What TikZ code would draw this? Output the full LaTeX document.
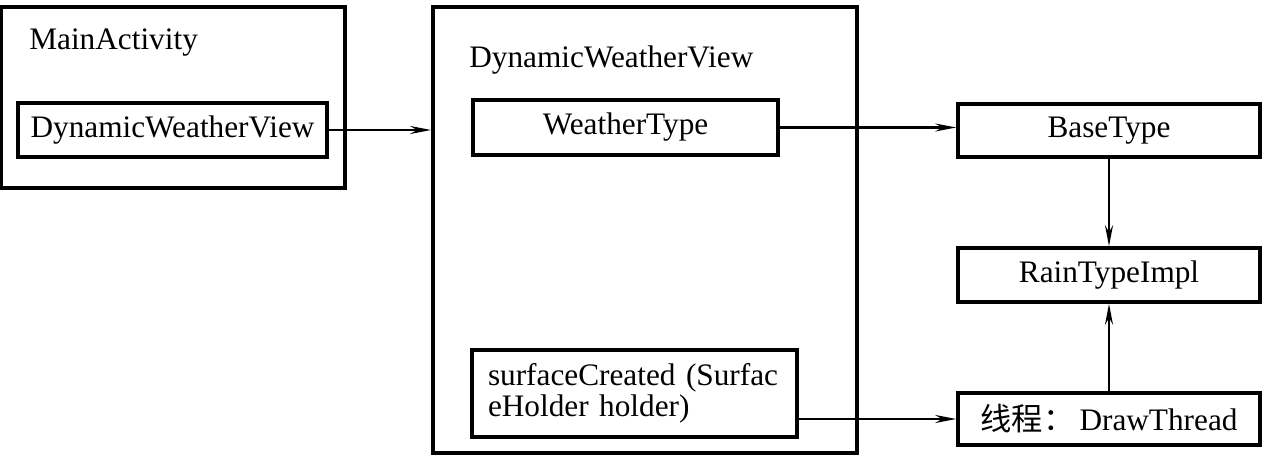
\documentclass[tikz,border=0pt]{standalone}
\usepackage{fontspec}
\setmainfont{Liberation Serif}
\newfontfamily\cjk{Noto Sans CJK SC}
\usepackage{tikz}
\usetikzlibrary{positioning,calc,arrows.meta}

\tikzset{
  box/.style={draw, line width=2.1pt, inner sep=0pt, minimum height=1.08cm},
  frame/.style={draw, line width=2.2pt, inner sep=0pt},
  title/.style={anchor=west, inner sep=0pt},
  link/.style={line width=1.2pt, -{Stealth[length=12pt, width=4.6pt, inset=4pt]}},
  vlink/.style={line width=0.8pt, -{Stealth[length=12pt, width=4.6pt, inset=4pt]}}
}

\begin{document}
\begin{tikzpicture}[font=\fontsize{17.8}{18}\selectfont]
  \useasboundingbox (0,0) rectangle (25.38,-9.1);

  % left part
  \node[frame, minimum width=6.88cm, minimum height=3.62cm] (main) at (3.46,-1.95) {};
  \node[title] (maintitle) at (0.58,-0.86) {MainActivity};
  \node[box, minimum width=6.18cm] (dwvin) at (3.45,-2.6) {DynamicWeatherView};

  % middle part
  \node[frame, minimum width=8.48cm, minimum height=8.92cm] (dwv) at (12.9,-4.6) {};
  \node[title] (dwvtitle) at (9.38,-1.2) {DynamicWeatherView};
  \node[box, minimum width=6.1cm, minimum height=1.1cm] (wtype) at (12.51,-2.55) {WeatherType};
  \node[box, text width=5.86cm, inner xsep=0.32cm, align=left, minimum height=1.74cm]
    (surf) at (12.69,-7.87) {surfaceCreated (Surfac\\eHolder holder)};

  % right part
  \node[box, minimum width=6.04cm, minimum height=1.06cm] (base) at (22.18,-2.61) {BaseType};
  \node[box, minimum width=6.04cm] (rain) at (22.18,-5.5) {RainTypeImpl};
  \node[box, minimum width=6.04cm, minimum height=1.04cm] (thread) at (22.18,-8.38) {{\cjk 线程：}\,DrawThread};

  \draw[link] (dwvin.east) -- (dwvin.east -| dwv.west);
  \draw[link] (wtype.east) -- (wtype.east -| base.west);
  \draw[link] (thread.west -| surf.east) -- (thread.west);
  \draw[vlink] (base.south) -- (rain.north);
  \draw[vlink] (thread.north) -- (rain.south);
\end{tikzpicture}
\end{document}
